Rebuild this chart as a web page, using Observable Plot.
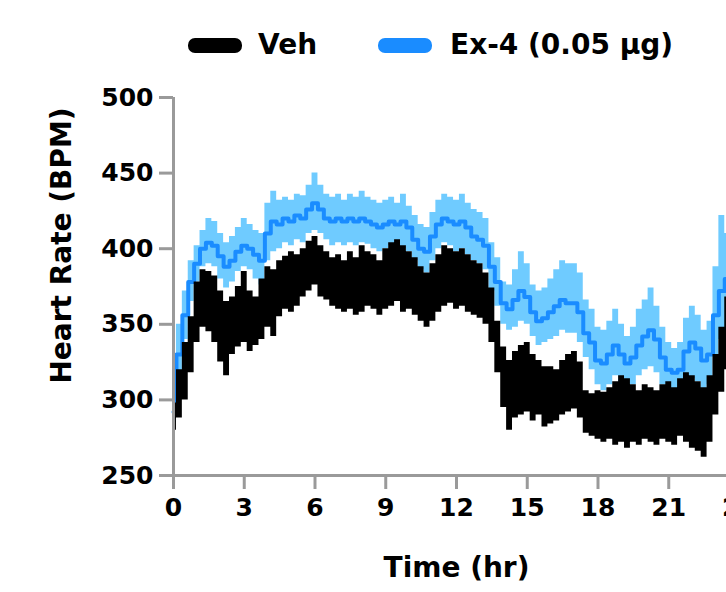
<!DOCTYPE html>
<html><head><meta charset="utf-8">
<script src="https://cdn.jsdelivr.net/npm/d3@7"></script>
<script src="https://cdn.jsdelivr.net/npm/@observablehq/plot@0.6"></script>
<style>
html,body{margin:0;padding:0;background:#fff;overflow:hidden;width:726px;height:592px;}
#legend{position:relative;height:80px;width:726px;font-family:"DejaVu Sans",sans-serif;font-weight:bold;font-size:28px;color:#000;}
.sw{position:absolute;top:38px;width:54px;height:15px;border-radius:7px;}
.lt{position:absolute;top:31px;line-height:28px;white-space:nowrap;}
#chart{width:760px;height:512px;overflow:visible;}
#chart svg{display:block;max-width:none !important;width:760px !important;height:512px !important;}
</style>
</head><body>
<div id="legend"></div>
<div id="chart"></div>
<script>
const seriesNames = ["Veh", "Ex-4 (0.05 μg)"];
const seriesColors = ["#000000", "#1a8cff"];
const bandColor = "#6fcbff";
const xTitle = "Time (hr)";
const yTitle = "Heart Rate (BPM)";
const xTicks = [0, 3, 6, 9, 12, 15, 18, 21, 24];
const yTicks = [250, 300, 350, 400, 450, 500];

const hours = [0,0.25,0.5,0.75,1,1.25,1.5,1.75,2,2.25,2.5,2.75,3,3.25,3.5,3.75,4,4.25,4.5,4.75,5,5.25,5.5,5.75,6,6.25,6.5,6.75,7,7.25,7.5,7.75,8,8.25,8.5,8.75,9,9.25,9.5,9.75,10,10.25,10.5,10.75,11,11.25,11.5,11.75,12,12.25,12.5,12.75,13,13.25,13.5,13.75,14,14.25,14.5,14.75,15,15.25,15.5,15.75,16,16.25,16.5,16.75,17,17.25,17.5,17.75,18,18.25,18.5,18.75,19,19.25,19.5,19.75,20,20.25,20.5,20.75,21,21.25,21.5,21.75,22,22.25,22.5,22.75,23,23.25,23.5,23.75,24];

// Veh: lower / upper edge of the band (mean ± SEM)
const vehLow = [280,288,300,318,338,348,345,338,325,316,330,335,338,332,336,340,348,342,355,360,358,362,368,372,376,368,366,362,360,358,360,356,358,362,360,356,360,362,365,358,360,356,352,348,352,358,362,364,360,362,358,356,354,350,338,318,295,280,288,290,292,286,290,282,284,286,290,292,294,288,278,276,274,272,274,270,272,268,272,270,274,272,270,274,272,270,276,272,268,266,262,272,290,305,320,330,335];
const vehHigh = [298,320,338,355,378,386,385,382,372,365,368,375,385,372,368,380,388,386,392,395,398,396,400,405,408,402,398,394,396,392,398,394,402,398,396,392,400,404,406,402,398,394,388,384,390,396,402,400,398,400,396,392,390,384,374,352,335,326,332,336,338,330,326,322,322,320,326,330,332,325,306,304,306,305,308,312,316,314,310,306,310,308,306,310,312,308,314,318,316,312,308,316,330,348,368,378,385];

// Ex-4 (0.05 μg): lower edge, mean, upper edge
const ex4Low = [285,310,340,365,378,388,390,388,380,374,378,385,388,386,380,376,392,398,400,404,402,406,404,410,412,410,406,402,404,402,404,402,404,403,400,398,400,402,398,400,398,392,386,384,392,400,404,402,398,400,396,392,390,386,372,362,350,346,348,352,350,342,336,338,340,342,346,344,344,338,328,320,310,306,310,316,312,308,310,316,320,322,318,310,304,302,304,310,314,312,306,310,330,340,345,350,355];
const ex4Mean = [292,330,356,378,390,400,404,402,395,388,392,398,402,400,396,392,410,418,416,420,418,422,420,426,430,426,420,418,420,418,420,418,420,418,416,414,416,418,416,418,414,406,400,398,408,416,420,418,416,418,414,408,406,402,388,378,364,360,366,372,368,358,352,354,358,362,366,364,364,358,344,338,326,324,330,336,330,324,328,336,342,346,340,328,320,318,320,332,338,334,326,330,356,372,380,385,388];
const ex4High = [300,350,372,392,402,412,420,418,410,404,408,414,420,416,412,410,430,438,432,434,432,436,435,442,450,442,436,434,436,432,436,434,438,434,432,430,432,434,430,436,428,422,416,414,424,432,436,434,432,436,430,426,424,420,404,394,378,376,386,398,390,376,372,374,380,386,392,390,390,384,366,360,348,346,352,360,350,342,348,360,366,374,362,348,338,334,338,354,362,356,346,352,388,422,410,415,418];

const data = hours.map((t, i) => ({
  t, vLo: vehLow[i], vHi: vehHigh[i], eLo: ex4Low[i], eMid: ex4Mean[i], eHi: ex4High[i]
}));

// legend
const legend = document.getElementById("legend");
const legendItems = [
  {sw: 188, tx: 258, color: seriesColors[0], name: seriesNames[0]},
  {sw: 378, tx: 450, color: seriesColors[1], name: seriesNames[1]}
];
for (const it of legendItems) {
  const s = document.createElement("div");
  s.className = "sw"; s.style.left = it.sw + "px"; s.style.background = it.color;
  legend.appendChild(s);
  const t = document.createElement("div");
  t.className = "lt"; t.style.left = it.tx + "px"; t.textContent = it.name;
  legend.appendChild(t);
}

const axisGrey = "#9a9a9a";
const chart = Plot.plot({
  width: 760, height: 512,
  marginLeft: 173, marginRight: 21, marginTop: 17, marginBottom: 117,
  style: {fontFamily: "DejaVu Sans, sans-serif", fontWeight: "bold", fontSize: "25px", color: "black", background: "white", overflow: "visible"},
  x: {domain: [0, 24]},
  y: {domain: [250, 500]},
  marks: [
    Plot.areaY(data, {x: "t", y1: "eLo", y2: "eHi", fill: bandColor, curve: "step"}),
    Plot.lineY(data, {x: "t", y: "eMid", stroke: seriesColors[1], strokeWidth: 4, curve: "step"}),
    Plot.areaY(data, {x: "t", y1: "vLo", y2: "vHi", fill: seriesColors[0], curve: "step"}),
    Plot.ruleX([xTicks[0]], {y1: yTicks[0], y2: yTicks[yTicks.length - 1], stroke: axisGrey, strokeWidth: 3}),
    Plot.ruleY([yTicks[0]], {stroke: axisGrey, strokeWidth: 3}),
    Plot.axisX(xTicks, {tickSize: 14, tickPadding: 9, stroke: axisGrey, strokeWidth: 3, fill: "black", fontSize: 25, fontWeight: "bold", label: null}),
    Plot.axisY(yTicks, {tickSize: 14, tickPadding: 6, stroke: axisGrey, strokeWidth: 3, fill: "black", fontSize: 25, fontWeight: "bold", label: null}),
    Plot.text([xTitle], {text: d => d, frameAnchor: "bottom", dy: 93, lineAnchor: "middle", textAnchor: "middle", fontSize: 28, fontWeight: "bold", fill: "black"}),
    Plot.text([yTitle], {text: d => d, frameAnchor: "top-left", dx: -111, dy: 148, rotate: -90, lineAnchor: "middle", textAnchor: "middle", fontSize: 28, fontWeight: "bold", fill: "black"})
  ]
});
document.getElementById("chart").appendChild(chart);
</script>
</body></html>
